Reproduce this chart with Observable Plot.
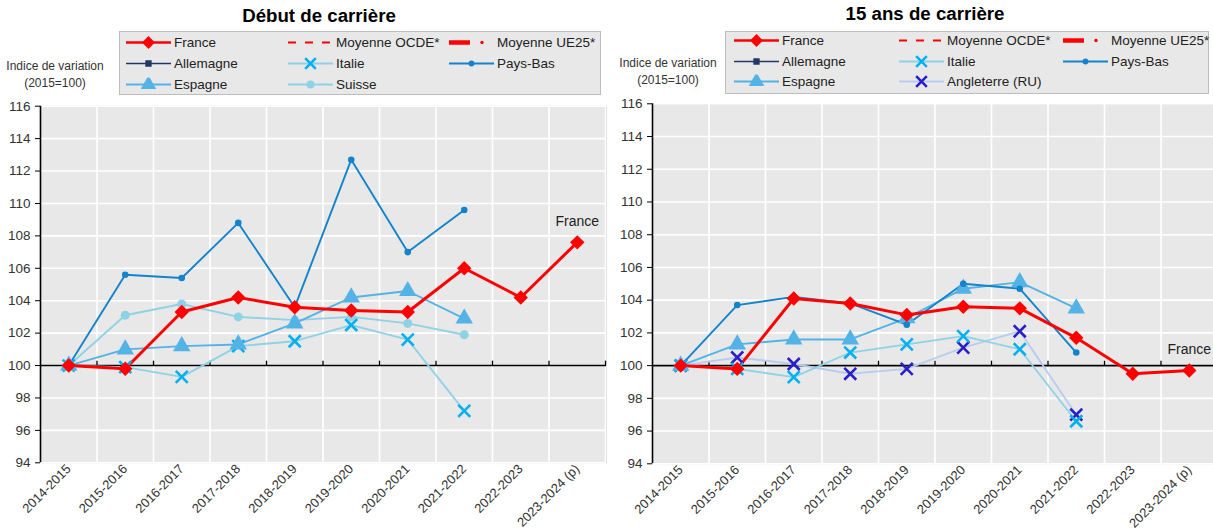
<!DOCTYPE html>
<html><head><meta charset="utf-8">
<script src="https://cdn.jsdelivr.net/npm/d3@7"></script>
<script src="https://cdn.jsdelivr.net/npm/@observablehq/plot@0.6"></script>
<style>
  html,body{margin:0;padding:0;background:#fff;}
  body{font-family:"Liberation Sans",Arial,sans-serif;color:#222;}
  #root{position:relative;width:1213px;height:531px;overflow:hidden;}
  .title{position:absolute;font-weight:bold;font-size:18.7px;transform:translate(-50%,-50%);white-space:nowrap;color:#000;}
  .ylab{position:absolute;font-size:12px;text-align:center;transform:translateX(-50%);line-height:17px;white-space:nowrap;color:#333;}
  .legend{position:absolute;background:#e8e8e8;border:1px solid #bdbdbd;box-sizing:border-box;}
  .item{position:absolute;display:flex;align-items:center;font-size:13.5px;white-space:nowrap;transform:translateY(-50%);color:#222;}
  .item svg{margin-right:3px;}
  .panel{position:absolute;top:95px;}
  .panel svg{max-width:none;overflow:visible;}
</style></head>
<body><div id="root"></div>
<script>
// ---------- data ----------
const categories = ["2014-2015","2015-2016","2016-2017","2017-2018","2018-2019","2019-2020","2020-2021","2021-2022","2022-2023","2023-2024 (p)"];
const yTicks = [94,96,98,100,102,104,106,108,110,112,114,116];

// Début de carrière
const debutFrance   = [100, 99.8, 103.3, 104.2, 103.6, 103.4, 103.3, 106.0, 104.2, 107.6];
const debutPaysBas  = [100, 105.6, 105.4, 108.8, 103.6, 112.7, 107.0, 109.6, null, null];
const debutEspagne  = [100, 101.0, 101.2, 101.3, 102.6, 104.2, 104.6, 102.9, null, null];
const debutSuisse   = [100, 103.1, 103.8, 103.0, 102.8, 103.0, 102.6, 101.9, null, null];
const debutItalie   = [100, 99.9, 99.3, 101.2, 101.5, 102.5, 101.6, 97.2, null, null];

// 15 ans de carrière
const quinzeFrance     = [100, 99.8, 104.1, 103.8, 103.1, 103.6, 103.5, 101.7, 99.5, 99.7];
const quinzePaysBas    = [100, 103.7, 104.2, 103.8, 102.5, 105.0, 104.7, 100.8, null, null];
const quinzeEspagne    = [100, 101.3, 101.6, 101.6, 102.9, 104.7, 105.1, 103.5, null, null];
const quinzeItalie     = [100, 99.8, 99.3, 100.8, 101.3, 101.8, 101.0, 96.6, null, null];
const quinzeAngleterre = [100, 100.5, 100.1, 99.5, 99.8, 101.1, 102.1, 97.0, null, null];

// ---------- styles ----------
const FONT = '"Liberation Sans",Arial,sans-serif';
const styles = {
  "France":          {line:"#ff0000", width:3,   mark:"#ff0000", symbol:"diamond2", r:6.5, fill:true},
  "Allemagne":       {line:"#1f3864", width:1.5, mark:"#1f3864", symbol:"square",   r:4,   fill:true},
  "Italie":          {line:"#8fd2e6", width:1.8, mark:"#00b0f0", symbol:"times",    r:5.5, fill:false},
  "Pays-Bas":        {line:"#1384cc", width:1.9, mark:"#1384cc", symbol:"circle",   r:3.3, fill:true},
  "Espagne":         {line:"#54b3e6", width:1.9, mark:"#54b3e6", symbol:"triangle", r:6.5, fill:true},
  "Suisse":          {line:"#8fd2e6", width:1.9, mark:"#8fd2e6", symbol:"circle",   r:4.5, fill:true},
  "Angleterre (RU)": {line:"#b7cdef", width:1.9, mark:"#2a1ec8", symbol:"times",    r:5.5, fill:false}
};

const panels = [
  {title:"Début de carrière", left:0, width:606, mLeft:40, mTop:10.7, mBottom:68.7,
   series:[["Italie",debutItalie],["Suisse",debutSuisse],["Espagne",debutEspagne],["Pays-Bas",debutPaysBas],["France",debutFrance]],
   legend:[["France","Moyenne OCDE*","Moyenne UE25*"],["Allemagne","Italie","Pays-Bas"],["Espagne","Suisse",null]],
   legendBox:{x:119,y:31,w:482,h:64}, cols:[126,288,449], rows:[42,63,84],
   titleX:319, titleY:16, ylabX:55, ylabY:58},
  {title:"15 ans de carrière", left:606, width:607, mLeft:46, mTop:8.3, mBottom:67.7,
   series:[["Angleterre (RU)",quinzeAngleterre],["Italie",quinzeItalie],["Espagne",quinzeEspagne],["Pays-Bas",quinzePaysBas],["France",quinzeFrance]],
   legend:[["France","Moyenne OCDE*","Moyenne UE25*"],["Allemagne","Italie","Pays-Bas"],["Espagne","Angleterre (RU)",null]],
   legendBox:{x:725,y:31,w:484,h:63}, cols:[734,899,1063], rows:[40,61,81],
   titleX:925, titleY:14, ylabX:668, ylabY:55}
];

const root = document.getElementById("root");
const boundaries = categories.map((c,i)=>i+0.5);

function symbolType(n){
  return {diamond2:d3.symbolDiamond2, square:d3.symbolSquare, times:d3.symbolTimes, circle:d3.symbolCircle, triangle:d3.symbolTriangle}[n];
}
function swatch(name){
  const w=45,h=14;
  let inner="";
  if(name==="Moyenne OCDE*"){
    inner=`<line x1="0" x2="${w}" y1="7" y2="7" stroke="#ff0000" stroke-width="2.2" stroke-dasharray="8,9"/>`;
  } else if(name==="Moyenne UE25*"){
    inner=`<line x1="0" x2="21" y1="7" y2="7" stroke="#ff0000" stroke-width="4.5"/><circle cx="33" cy="7" r="1.7" fill="#ff0000"/>`;
  } else {
    const s=styles[name];
    inner=`<line x1="0" x2="${w}" y1="7" y2="7" stroke="${s.line}" stroke-width="${Math.min(s.width,2.5)}"/>`;
    const sym=d3.symbol(symbolType(s.symbol), Math.PI*s.r*s.r*0.8)();
    inner+= s.fill ? `<path transform="translate(${w/2},7)" d="${sym}" fill="${s.mark}"/>`
                   : `<path transform="translate(${w/2},7)" d="${sym}" fill="none" stroke="${s.mark}" stroke-width="2.5"/>`;
  }
  return `<svg width="${w}" height="${h}" viewBox="0 0 ${w} ${h}">${inner}</svg>`;
}

for(const p of panels){
  const t=document.createElement("div"); t.className="title"; t.textContent=p.title;
  t.style.left=p.titleX+"px"; t.style.top=p.titleY+"px"; root.appendChild(t);
  const yl=document.createElement("div"); yl.className="ylab"; yl.innerHTML="Indice de variation<br>(2015=100)";
  yl.style.left=p.ylabX+"px"; yl.style.top=p.ylabY+"px"; root.appendChild(yl);
  const lb=document.createElement("div"); lb.className="legend";
  Object.assign(lb.style,{left:p.legendBox.x+"px",top:p.legendBox.y+"px",width:p.legendBox.w+"px",height:p.legendBox.h+"px"});
  root.appendChild(lb);
  p.legend.forEach((row,ri)=>row.forEach((name,ci)=>{
    if(!name) return;
    const it=document.createElement("div"); it.className="item";
    it.style.left=p.cols[ci]+"px"; it.style.top=p.rows[ri]+"px";
    it.innerHTML=swatch(name)+`<span>${name}</span>`;
    root.appendChild(it);
  }));

  const rows=[];
  for(const [name,vals] of p.series){
    vals.forEach((v,i)=>{ if(v!=null) rows.push({name,i,v}); });
  }
  const marks=[
    Plot.frame({fill:"#e8e8e8", stroke:"#d4d4d4"}),
    Plot.ruleY(yTicks,{stroke:"white",strokeWidth:1.6}),
    Plot.ruleX(boundaries,{stroke:"white",strokeWidth:1.6}),
    Plot.ruleY([100],{stroke:"#000",strokeWidth:1.6}),
    Plot.ruleX(boundaries,{y1:100,y2:100.27,stroke:"#000",strokeWidth:1.3}),
    Plot.ruleX([-0.5],{stroke:"#000",strokeWidth:1.6}),
    Plot.axisY({ticks:yTicks, tickSize:5, tickPadding:5, label:null, fontSize:13.5, color:"#333", stroke:"#000"}),
    Plot.axisX({ticks:d3.range(categories.length), tickFormat:i=>categories[i], tickRotate:-45, tickSize:0, tickPadding:4, label:null, fontSize:13, color:"#333"})
  ];
  for(const [name] of p.series){
    const s=styles[name];
    const d=rows.filter(r=>r.name===name);
    marks.push(Plot.line(d,{x:"i",y:"v",stroke:s.line,strokeWidth:s.width,strokeLinejoin:"round"}));
  }
  for(const [name] of p.series){
    const s=styles[name];
    const d=rows.filter(r=>r.name===name);
    marks.push(s.fill
      ? Plot.dot(d,{x:"i",y:"v",symbol:()=>s.symbol,r:s.r,fill:s.mark,stroke:"none"})
      : Plot.dot(d,{x:"i",y:"v",symbol:()=>s.symbol,r:s.r,stroke:s.mark,strokeWidth:2.6,fill:"none"}));
  }
  const fr=rows.filter(r=>r.name==="France");
  marks.push(Plot.text([fr[fr.length-1]],{x:"i",y:"v",text:d=>d.name,dy:-21,fontSize:14,fill:"#222"}));

  const chart=Plot.plot({
    width:p.width, height:436,
    marginLeft:p.mLeft, marginRight:0, marginTop:p.mTop, marginBottom:p.mBottom,
    x:{type:"linear",domain:[-0.5,9.5],range:[p.mLeft,p.mLeft+565]},
    y:{domain:[94,116]},
    symbol:{type:"identity"},
    style:{fontFamily:FONT, fontSize:"13px", background:"transparent", overflow:"visible"},
    marks
  });
  const wrap=document.createElement("div"); wrap.className="panel"; wrap.style.left=p.left+"px";
  wrap.appendChild(chart); root.appendChild(wrap);
}
</script></body></html>
